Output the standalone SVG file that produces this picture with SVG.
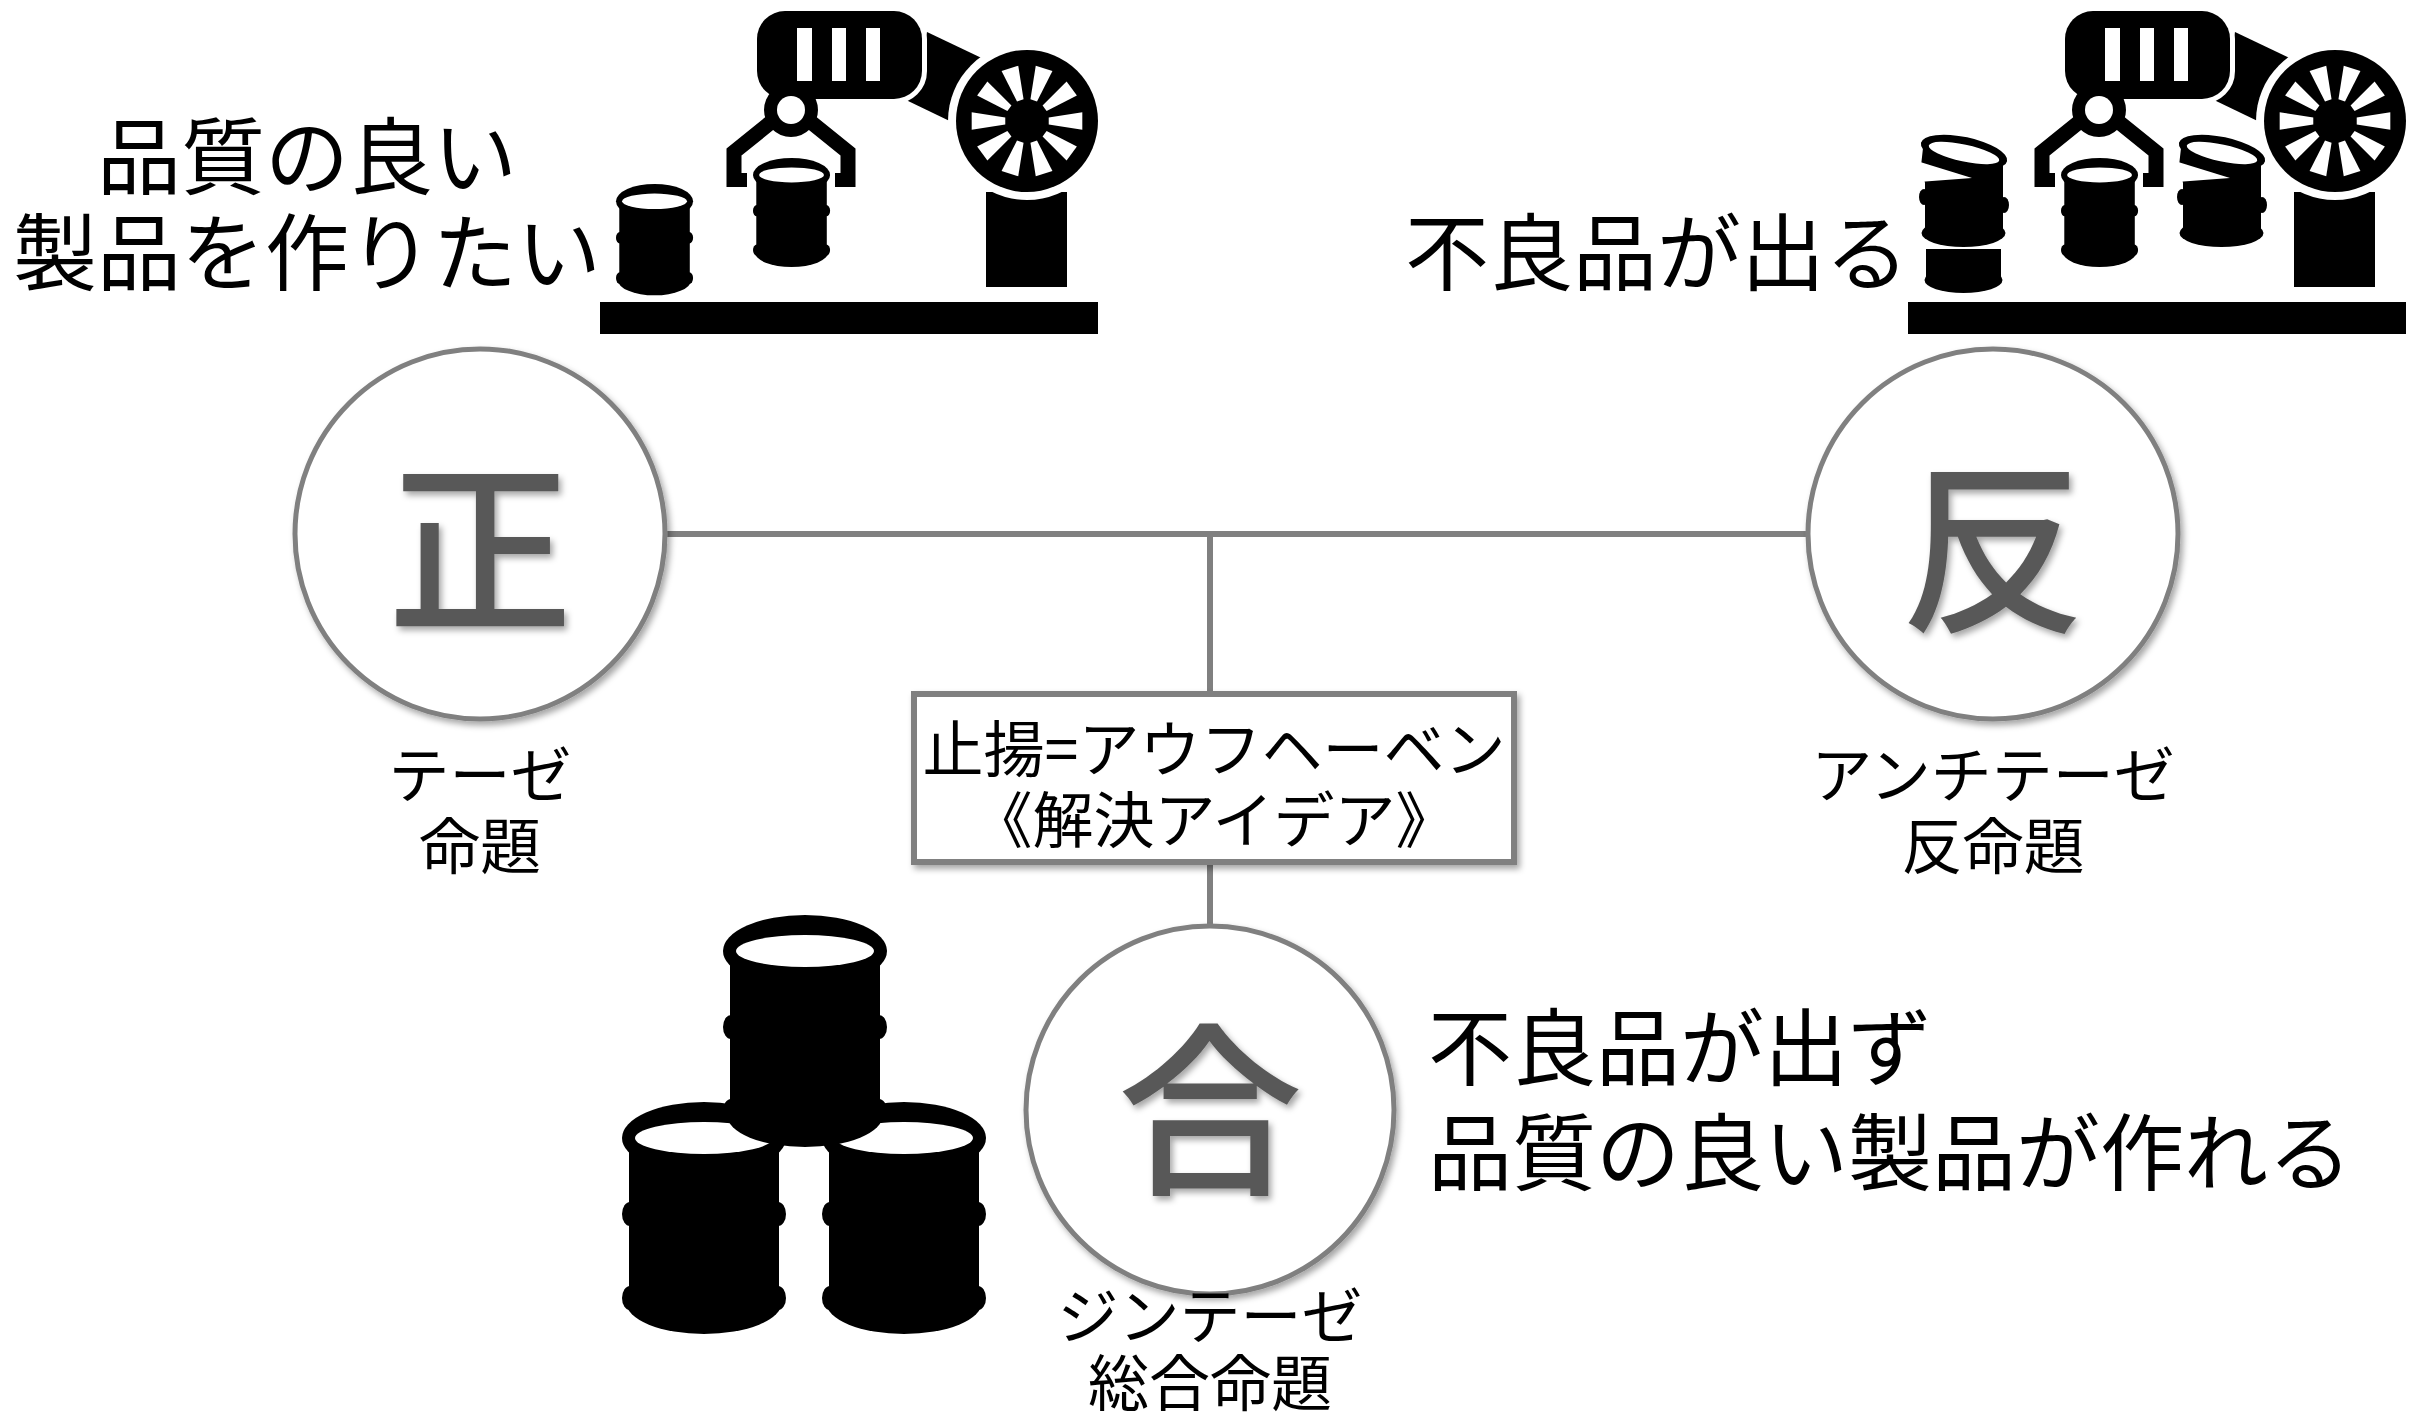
<svg xmlns="http://www.w3.org/2000/svg" xmlns:xlink="http://www.w3.org/1999/xlink" width="2421" height="1417" viewBox="0 0 2421 1417">
  <style>
    .jp { font-family: "Noto Sans CJK JP", "Noto Sans CJK SC", sans-serif; fill: #000; }
    .big { font-size: 84px; }
    .label { font-size: 61px; text-anchor: middle; }
    .kanji { font-size: 185px; text-anchor: middle; fill: #595959; font-weight: 500; }
    .ring { fill: #fff; stroke: #808080; stroke-width: 5; }
    .box { fill: #fff; stroke: #808080; stroke-width: 6; }
    .arm { fill: none; stroke: #000; stroke-width: 15; stroke-linejoin: miter; }
    .hole { fill: #fff; }
  </style>
  <defs>
    <filter id="shadow" x="-20%" y="-20%" width="140%" height="140%">
      <feDropShadow dx="3" dy="4" stdDeviation="3" flood-color="#000" flood-opacity="0.35"/>
    </filter>

    <!-- oil drum, drawn in a 164 x 232 frame -->
    <g id="barrel">
      <ellipse cx="82" cy="200" rx="78" ry="32"/>
      <rect x="7" y="36" width="150" height="166"/>
      <ellipse cx="8" cy="112" rx="8" ry="12"/>
      <ellipse cx="156" cy="112" rx="8" ry="12"/>
      <ellipse cx="8" cy="196" rx="8" ry="12"/>
      <ellipse cx="156" cy="196" rx="8" ry="12"/>
      <ellipse cx="82" cy="36" rx="82" ry="36"/>
      <ellipse class="hole" cx="82" cy="36" rx="69" ry="16"/>
    </g>

    <!-- drum with a cracked, tilted lid -->
    <g id="broken-barrel">
      <path d="M1923,148 L2003,160 L2003,233 L1925,233 L1925,183 L1921,166 Z"/>
      <ellipse cx="1963.5" cy="233" rx="42" ry="14"/>
      <ellipse cx="1924" cy="197" rx="5" ry="8"/>
      <ellipse cx="2004" cy="205" rx="5" ry="8"/>
      <ellipse cx="1964" cy="152" rx="44" ry="15" transform="rotate(12 1964 152)"/>
      <ellipse class="hole" cx="1964" cy="153" rx="36" ry="8.5" transform="rotate(12 1964 153)"/>
      <polygon class="hole" points="1912,159.5 1972,178 1912,182.5"/>
    </g>

    <!-- one white spoke gap of the joint wheel -->
    <path id="spoke" class="hole" d="M21.73,-3.44 L55.31,-8.76 L55.31,8.76 L21.73,3.44 Z"/>

    <!-- robot arm on a conveyor, holding a drum -->
    <g id="robot-arm">
      <rect x="600" y="302" width="498" height="32"/>
      <polygon points="927,32 990,62 960,126 906,100"/>
      <path class="arm" d="M791,106 L734,152 L734,187"/>
      <path class="arm" d="M791,106 L848,152 L848,187"/>
      <rect x="727" y="173" width="20" height="14"/>
      <rect x="835" y="173" width="20" height="14"/>
      <rect x="757" y="11" width="165" height="88" rx="28" stroke="#fff" stroke-width="10" paint-order="stroke"/>
      <rect class="hole" x="797" y="28" width="15" height="53"/>
      <rect class="hole" x="832" y="28" width="14" height="53"/>
      <rect class="hole" x="866" y="28" width="14" height="53"/>
      <circle cx="791" cy="110" r="27"/>
      <circle class="hole" cx="791" cy="110" r="14"/>
      <rect x="986" y="192" width="81" height="95"/>
      <circle class="hole" cx="1027" cy="121" r="79"/>
      <circle cx="1027" cy="121" r="71"/>
      <g transform="translate(1027 121)">
        <use xlink:href="#spoke"/>
        <use xlink:href="#spoke" transform="rotate(36)"/>
        <use xlink:href="#spoke" transform="rotate(72)"/>
        <use xlink:href="#spoke" transform="rotate(108)"/>
        <use xlink:href="#spoke" transform="rotate(144)"/>
        <use xlink:href="#spoke" transform="rotate(180)"/>
        <use xlink:href="#spoke" transform="rotate(216)"/>
        <use xlink:href="#spoke" transform="rotate(252)"/>
        <use xlink:href="#spoke" transform="rotate(288)"/>
        <use xlink:href="#spoke" transform="rotate(324)"/>
      </g>
      <use xlink:href="#barrel" transform="translate(753 158) scale(0.47)"/>
    </g>
  </defs>

  <rect width="2421" height="1417" fill="#fff"/>

  <!-- connectors -->
  <g id="connectors" stroke="#808080" stroke-width="6" fill="none">
    <line x1="665" y1="534" x2="1808" y2="534"/>
    <line x1="1210" y1="534" x2="1210" y2="694"/>
    <line x1="1210" y1="862" x2="1210" y2="926"/>
  </g>

  <!-- good production line -->
  <g id="node-robot-good">
    <use xlink:href="#robot-arm"/>
    <use xlink:href="#barrel" transform="translate(616 184) scale(0.47 0.48)"/>
    <text class="jp big" x="307" y="188" text-anchor="middle">品質の良い</text>
    <text class="jp big" x="307" y="284" text-anchor="middle">製品を作りたい</text>
  </g>

  <!-- defective production line -->
  <g id="node-robot-defect">
    <use xlink:href="#robot-arm" transform="translate(1308 0)"/>
    <rect x="1926" y="249" width="75" height="31"/>
    <ellipse cx="1963.5" cy="280" rx="39" ry="13"/>
    <use xlink:href="#broken-barrel"/>
    <use xlink:href="#broken-barrel" transform="translate(258 0)"/>
    <text class="jp big" x="1657" y="284" text-anchor="middle">不良品が出る</text>
  </g>

  <!-- thesis -->
  <g id="node-thesis">
    <circle class="ring" cx="480" cy="534" r="185" filter="url(#shadow)"/>
    <text class="jp kanji" x="480" y="618" filter="url(#shadow)">正</text>
    <text class="jp label" x="480" y="798">テーゼ</text>
    <text class="jp label" x="480" y="869">命題</text>
  </g>

  <!-- antithesis -->
  <g id="node-antithesis">
    <circle class="ring" cx="1993" cy="534" r="185" filter="url(#shadow)"/>
    <text class="jp kanji" x="1993" y="618" filter="url(#shadow)">反</text>
    <text class="jp label" x="1993" y="798">アンチテーゼ</text>
    <text class="jp label" x="1993" y="869">反命題</text>
  </g>

  <!-- aufheben -->
  <g id="node-aufheben">
    <rect class="box" x="914" y="694" width="600" height="168" filter="url(#shadow)"/>
    <text class="jp label" x="1214" y="772">止揚=アウフヘーベン</text>
    <text class="jp label" x="1214" y="843">《解決アイデア》</text>
  </g>

  <!-- synthesis -->
  <g id="node-synthesis">
    <circle class="ring" cx="1210" cy="1110" r="184" filter="url(#shadow)"/>
    <text class="jp kanji" x="1210" y="1180" filter="url(#shadow)">合</text>
    <text class="jp label" x="1210" y="1339">ジンテーゼ</text>
    <text class="jp label" x="1210" y="1406">総合命題</text>
  </g>

  <!-- stacked drums -->
  <g id="node-barrels">
    <use xlink:href="#barrel" transform="translate(622 1102)"/>
    <use xlink:href="#barrel" transform="translate(822 1102)"/>
    <use xlink:href="#barrel" transform="translate(723 915)"/>
  </g>

  <!-- outcome -->
  <g id="node-outcome">
    <text class="jp big" x="1428" y="1079">不良品が出ず</text>
    <text class="jp big" x="1428" y="1184">品質の良い製品が作れる</text>
  </g>
</svg>
